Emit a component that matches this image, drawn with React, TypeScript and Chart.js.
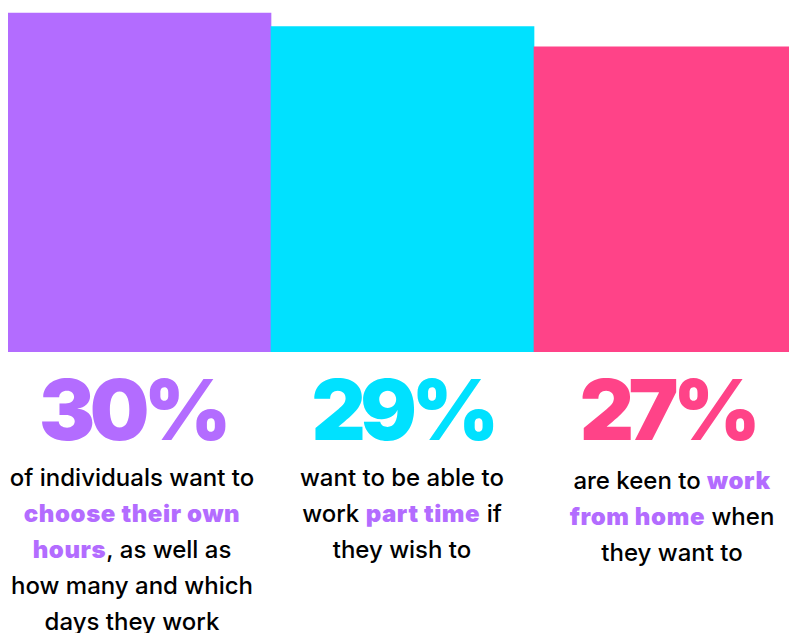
import React, { useEffect, useLayoutEffect, useRef } from "react";
import { Chart, registerables } from "chart.js";

Chart.register(...registerables);

const categories = ["Choose own hours", "Part time", "Work from home"];
const values = [30, 28.8, 27];
const valueLabels = ["30%", "29%", "27%"];
const barColors = ["#b36cff", "#00e1ff", "#ff4388"];
const highlightColor = "#b36cff";

// each description: lines, each line: segments [text, highlighted]
const descriptions: [string, boolean][][][] = [
  [
    [["of individuals want to", false]],
    [["choose their own", true]],
    [["hours", true], [", as well as", false]],
    [["how many and which", false]],
    [["days they work", false]],
  ],
  [
    [["want to be able to", false]],
    [["work ", false], ["part time", true], [" if", false]],
    [["they wish to", false]],
  ],
  [
    [["are keen to ", false], ["work", true]],
    [["from home", true], [" when", false]],
    [["they want to", false]],
  ],
];

const colCenters = [124, 394, 664];
const labelCenters = [124.5, 394.5, 659.5];
const descTops = [452, 452, 455];

export default function App() {
  const canvasRef = useRef<HTMLCanvasElement | null>(null);

  useLayoutEffect(() => {
    document.documentElement.style.overflow = "hidden";
    document.body.style.margin = "0";
  }, []);

  useEffect(() => {
    if (!canvasRef.current) return;
    const chart = new Chart(canvasRef.current, {
      type: "bar",
      data: {
        labels: categories,
        datasets: [
          {
            data: values,
            backgroundColor: barColors,
            borderWidth: 0,
            barPercentage: 1,
            categoryPercentage: 1,
          },
        ],
      },
      options: {
        responsive: false,
        animation: false,
        devicePixelRatio: 1,
        layout: { padding: 0 },
        plugins: { legend: { display: false }, tooltip: { enabled: false } },
        scales: {
          x: { display: false },
          y: { display: false, min: 0, max: 30.44 },
        },
      },
    });
    return () => chart.destroy();
  }, []);

  return (
    <div
      style={{
        position: "relative",
        marginLeft: 8,
        marginTop: 8,
        width: 781,
        height: 625,
        overflow: "hidden",
      }}
    >
      <canvas ref={canvasRef} width={789} height={344} style={{ display: "block" }} />
      {valueLabels.map((t, i) => (
        <div
          key={"v" + i}
          style={{
            position: "absolute",
            left: labelCenters[i] - 150,
            width: 300,
            top: 360,
            textAlign: "center",
            fontFamily: "Inter, sans-serif",
            fontWeight: 900,
            fontSize: 84,
            lineHeight: "84px",
            color: barColors[i],
            letterSpacing: "-5.5px",
          }}
        >
          {t}
        </div>
      ))}
      {descriptions.map((lines, i) => (
        <div
          key={"d" + i}
          style={{
            position: "absolute",
            left: colCenters[i] - 150,
            width: 300,
            top: descTops[i],
            textAlign: "center",
            fontFamily: "Inter, sans-serif",
            fontWeight: 500,
            fontSize: 24,
            color: "#000",
          }}
        >
          {lines.map((segs, j) => (
            <div key={j} style={{ height: 36, lineHeight: "36px", whiteSpace: "nowrap" }}>
              {segs.map(([s, h], k) => (
                <span
                  key={k}
                  style={
                    h ? { color: highlightColor, fontWeight: 900, letterSpacing: "0.6px" } : undefined
                  }
                >
                  {s}
                </span>
              ))}
            </div>
          ))}
        </div>
      ))}
    </div>
  );
}
